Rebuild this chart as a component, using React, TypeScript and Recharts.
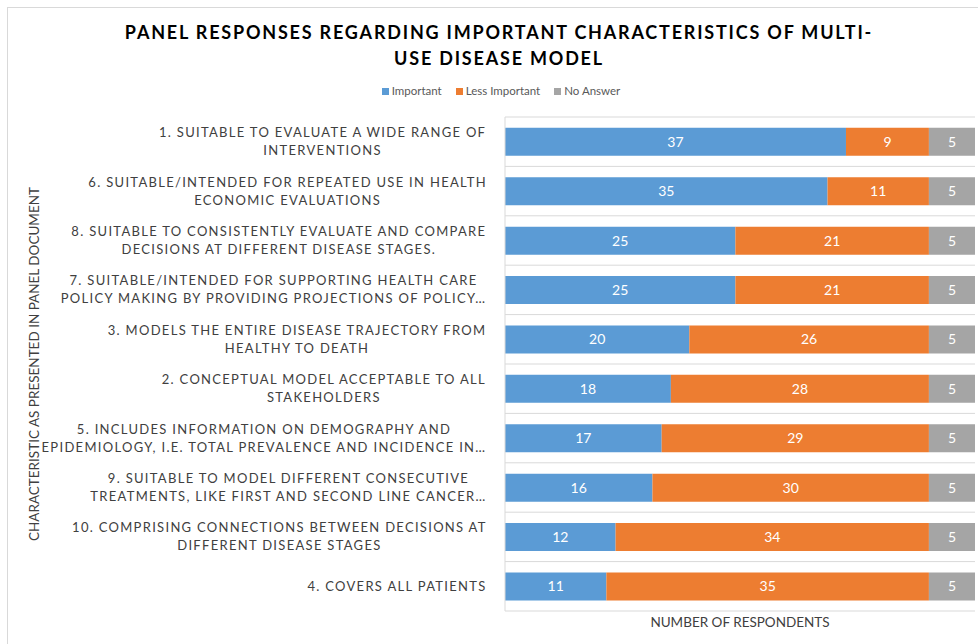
import React from "react";
import { Bar, BarChart, CartesianGrid, LabelList, XAxis, YAxis } from "recharts";

const categories = [
  "1. SUITABLE TO EVALUATE A WIDE RANGE OF\nINTERVENTIONS",
  "6. SUITABLE/INTENDED FOR REPEATED USE IN HEALTH\nECONOMIC EVALUATIONS",
  "8. SUITABLE TO CONSISTENTLY EVALUATE AND COMPARE\nDECISIONS AT DIFFERENT DISEASE STAGES.",
  "7. SUITABLE/INTENDED FOR SUPPORTING HEALTH CARE\nPOLICY MAKING BY PROVIDING PROJECTIONS OF POLICY…",
  "3. MODELS THE ENTIRE DISEASE TRAJECTORY FROM\nHEALTHY TO DEATH",
  "2. CONCEPTUAL MODEL ACCEPTABLE TO ALL\nSTAKEHOLDERS",
  "5. INCLUDES INFORMATION ON DEMOGRAPHY AND\nEPIDEMIOLOGY, I.E. TOTAL PREVALENCE AND INCIDENCE IN…",
  "9. SUITABLE TO MODEL DIFFERENT CONSECUTIVE\nTREATMENTS, LIKE FIRST AND SECOND LINE CANCER…",
  "10. COMPRISING CONNECTIONS BETWEEN DECISIONS AT\nDIFFERENT DISEASE STAGES",
  "4. COVERS ALL PATIENTS",
];
const important = [37, 35, 25, 25, 20, 18, 17, 16, 12, 11];
const lessImportant = [9, 11, 21, 21, 26, 28, 29, 30, 34, 35];
const noAnswer = [5, 5, 5, 5, 5, 5, 5, 5, 5, 5];
const xDomain = [0, 51];

const series = [
  { key: "important", name: "Important", color: "#5B9BD5" },
  { key: "lessImportant", name: "Less Important", color: "#ED7D31" },
  { key: "noAnswer", name: "No Answer", color: "#A5A5A5" },
];

const data = categories.map((name, i) => ({
  name,
  important: important[i],
  lessImportant: lessImportant[i],
  noAnswer: noAnswer[i],
}));

const FONT = "Lato, 'Open Sans', sans-serif";
const TICK_SIZE = 13;
const TICK_SPACING = 1.3;

const ctx = typeof document !== "undefined" ? document.createElement("canvas").getContext("2d") : null;
function textWidth(s: string) {
  if (!ctx) return s.length * 8.4;
  ctx.font = `${TICK_SIZE}px Lato`;
  return ctx.measureText(s).width + TICK_SPACING * s.length;
}

function CategoryTick(props: any) {
  const { x, y, payload } = props;
  const lines = String(payload.value).split("\n");
  const maxW = Math.max(...lines.map(textWidth));
  const cx = x - maxW / 2;
  const lineH = 18;
  const startY = y - ((lines.length - 1) * lineH) / 2;
  return (
    <text
      textAnchor="middle"
      fill="#404040"
      fontSize={TICK_SIZE}
      fontFamily={FONT}
      letterSpacing={TICK_SPACING}
    >
      {lines.map((l, i) => (
        <tspan key={i} x={cx} y={startY + i * lineH} dy="0.35em">
          {l}
        </tspan>
      ))}
    </text>
  );
}

export default function App() {
  return (
    <div
      style={{
        position: "absolute",
        left: 0,
        top: 0,
        width: 978,
        height: 644,
        background: "#fff",
        fontFamily: FONT,
        overflow: "hidden",
      }}
    >
      <div
        style={{
          position: "absolute",
          left: 7,
          top: 7,
          right: 0,
          bottom: 0,
          borderTop: "1px solid #d9d9d9",
          borderLeft: "1px solid #d9d9d9",
        }}
      />
      <div
        style={{
          position: "absolute",
          left: 20,
          width: 958,
          top: 19,
          textAlign: "center",
          fontWeight: 700,
          fontSize: 18,
          lineHeight: "26px",
          letterSpacing: 1.8,
          color: "#000",
          whiteSpace: "nowrap",
        }}
      >
        PANEL RESPONSES REGARDING IMPORTANT CHARACTERISTICS OF MULTI-
        <br />
        USE DISEASE MODEL
      </div>
      <div
        style={{
          position: "absolute",
          left: 0,
          width: 1002,
          top: 84,
          display: "flex",
          justifyContent: "center",
          gap: 14,
          fontSize: 11.5,
          lineHeight: "14px",
          color: "#595959",
        }}
      >
        {series.map((s) => (
          <div key={s.key} style={{ display: "flex", alignItems: "center", gap: 3 }}>
            <span style={{ width: 7, height: 7, background: s.color, display: "inline-block" }} />
            <span>{s.name}</span>
          </div>
        ))}
      </div>
      <div
        style={{
          position: "absolute",
          left: 34,
          top: 364,
          transform: "translate(-50%, -50%) rotate(-90deg)",
          whiteSpace: "nowrap",
          fontSize: 13.5,
          color: "#404040",
        }}
      >
        CHARACTERISTIC AS PRESENTED IN PANEL DOCUMENT
      </div>
      <div
        style={{
          position: "absolute",
          left: 740,
          top: 622,
          transform: "translate(-50%, -50%)",
          whiteSpace: "nowrap",
          fontSize: 13.5,
          color: "#404040",
        }}
      >
        NUMBER OF RESPONDENTS
      </div>
      <div style={{ position: "absolute", left: 0, top: 0 }}>
        <BarChart
          width={978}
          height={644}
          data={data}
          layout="vertical"
          margin={{ top: 117, right: 3, bottom: 33, left: 0 }}
          barCategoryGap="22%"
        >
          <CartesianGrid
            vertical={false}
            stroke="#d9d9d9"
            horizontalCoordinatesGenerator={({ offset }: any) =>
              Array.from({ length: categories.length + 1 }, (_, i) => offset.top + (i * offset.height) / categories.length)
            }
          />
          <XAxis type="number" domain={xDomain} hide />
          <YAxis
            type="category"
            dataKey="name"
            width={505}
            tickLine={false}
            axisLine={{ stroke: "#d9d9d9" }}
            tickMargin={12}
            interval={0}
            tick={<CategoryTick />}
          />
          {series.map((s) => (
            <Bar key={s.key} dataKey={s.key} name={s.name} stackId="a" fill={s.color} isAnimationActive={false}>
              <LabelList dataKey={s.key} position="center" fill="#ffffff" fontSize={14} fontFamily={FONT} />
            </Bar>
          ))}
        </BarChart>
      </div>
    </div>
  );
}
